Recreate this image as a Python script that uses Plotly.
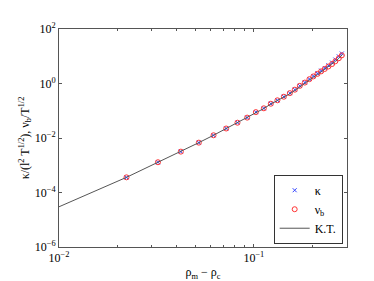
import plotly.graph_objects as go

# data
rho = [0.0222, 0.0322, 0.0422, 0.0522, 0.0621, 0.0721, 0.0824, 0.0924, 0.1024,
       0.1125, 0.1222, 0.1321, 0.1425, 0.1530, 0.1623, 0.1721, 0.1826, 0.1928,
       0.2021, 0.2120, 0.2214, 0.2312, 0.2413, 0.2521, 0.2621, 0.2729, 0.2828]
kappa = [3.60e-4, 1.29e-3, 3.16e-3, 6.75e-3, 1.26e-2, 2.23e-2, 3.64e-2, 5.60e-2,
         8.89e-2, 0.123, 0.181, 0.242, 0.327, 0.443, 0.593, 0.821, 1.09, 1.46,
         1.88, 2.36, 2.97, 3.70, 4.65, 5.85, 7.55, 9.90, 12.6]
nu_b = [3.60e-4, 1.29e-3, 3.16e-3, 6.75e-3, 1.26e-2, 2.23e-2, 3.64e-2, 5.60e-2,
        8.89e-2, 0.123, 0.181, 0.242, 0.327, 0.443, 0.593, 0.821, 1.08, 1.44,
        1.82, 2.26, 2.79, 3.42, 4.21, 5.20, 6.55, 8.45, 10.8]
kt_x = [0.01, 0.0222, 0.0322, 0.0422, 0.0522, 0.0621, 0.0721, 0.0824, 0.0924,
        0.1024, 0.1125, 0.1222, 0.1321, 0.1425, 0.1530, 0.1623, 0.1721, 0.1826,
        0.1928, 0.2021, 0.2120, 0.2214, 0.2312, 0.2413, 0.2521, 0.2621, 0.2729,
        0.2850]
kt_y = [2.99e-5, 3.60e-4, 1.29e-3, 3.16e-3, 6.75e-3, 1.26e-2, 2.23e-2, 3.64e-2,
        5.60e-2, 8.80e-2, 0.121, 0.176, 0.234, 0.312, 0.418, 0.555, 0.762, 1.00,
        1.33, 1.70, 2.12, 2.66, 3.30, 4.10, 5.10, 6.50, 8.40, 11.6]

x_ticks = [0.01, 0.1]
x_ticktext = ["10<sup>−2</sup>", "10<sup>−1</sup>"]
x_minor = [0.02, 0.03, 0.04, 0.05, 0.06, 0.07, 0.08, 0.09, 0.2, 0.3]
y_ticks = [1e-6, 1e-4, 1e-2, 1e0, 1e2]
y_ticktext = ["10<sup>−6</sup>", "10<sup>−4</sup>", "10<sup>−2</sup>",
              "10<sup>0</sup>", "10<sup>2</sup>"]

FONT = "Liberation Serif"
AX = "#555555"

fig = go.Figure()
fig.add_trace(go.Scatter(x=rho, y=kappa, mode="markers", name="κ",
                         marker=dict(symbol="x-thin", size=4, color="#3344ff",
                                     line=dict(width=1, color="#3344ff"))))
fig.add_trace(go.Scatter(x=rho, y=nu_b, mode="markers", name="ν<sub>b</sub>",
                         marker=dict(symbol="circle-open", size=5, color="#ff3333",
                                     line=dict(width=1, color="#ff3333"))))
fig.add_trace(go.Scatter(x=kt_x, y=kt_y, mode="lines", name="K.T.",
                         line=dict(color="#555555", width=1)))

fig.update_layout(
    width=374, height=281,
    margin=dict(l=51, r=35, t=21, b=34),
    paper_bgcolor="white", plot_bgcolor="white",
    font=dict(family=FONT, size=12, color="black"),
    legend=dict(x=0.985, xanchor="right", y=0.015, yanchor="bottom",
                bgcolor="white", bordercolor="#333333", borderwidth=1,
                font=dict(family=FONT, size=12), itemwidth=30,
                tracegroupgap=0),
    xaxis=dict(type="log", range=[-2, -0.522], showgrid=False, zeroline=False,
               showline=True, linecolor=AX, linewidth=1, mirror="allticks",
               ticks="inside", ticklen=3, tickcolor=AX,
               tickmode="array", tickvals=x_ticks, ticktext=x_ticktext,
               tickfont=dict(family=FONT, size=12),
               minor=dict(tickmode="array", tickvals=x_minor, ticks="inside",
                          ticklen=2, tickcolor=AX, showgrid=False),
               title=dict(text="ρ<sub>m</sub> − ρ<sub>c</sub>",
                          font=dict(family=FONT, size=12), standoff=3)),
    yaxis=dict(type="log", range=[-6, 2], showgrid=False, zeroline=False,
               showline=True, linecolor=AX, linewidth=1, mirror="allticks",
               ticks="inside", ticklen=3, tickcolor=AX,
               tickmode="array", tickvals=y_ticks, ticktext=y_ticktext,
               tickfont=dict(family=FONT, size=12),
               title=dict(text="κ/(l<sup>2</sup> T<sup>1/2</sup>), ν<sub>b</sub>/T<sup>1/2</sup>",
                          font=dict(family=FONT, size=12), standoff=2)),
)

fig.write_html("out.html")
